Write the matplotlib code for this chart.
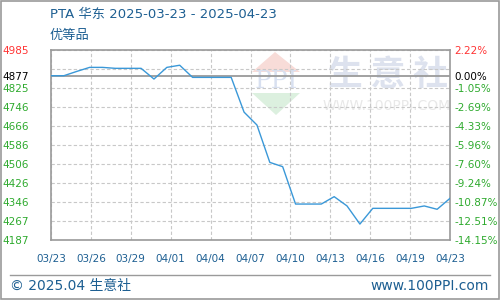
import matplotlib
matplotlib.use('Agg')
import matplotlib.pyplot as plt
from matplotlib.patches import Rectangle, Polygon
from matplotlib.lines import Line2D

plt.rcParams['font.family'] = ['DejaVu Sans', 'Noto Sans CJK SC']

# datos (precio diario, 03/23 .. 04/23)
precios = [4877, 4877, 4895, 4912, 4912, 4908, 4908, 4908, 4863, 4912,
           4921, 4870, 4870, 4870, 4870, 4724, 4670, 4513, 4495, 4338,
           4338, 4338, 4369, 4330, 4254, 4320, 4320, 4320, 4320, 4330,
           4316, 4362]
etiquetas_x = ['03/23', '03/26', '03/29', '04/01', '04/04', '04/07',
               '04/10', '04/13', '04/16', '04/19', '04/23']
niveles_y = [4985, 4905, 4825, 4746, 4666, 4586, 4506, 4426, 4346, 4267, 4187]
etiquetas_y = ['4985', '', '4825', '4746', '4666', '4586', '4506', '4426',
               '4346', '4267', '4187']
etiquetas_pct = ['2.22%', '', '-1.05%', '-2.69%', '-4.33%', '-5.96%',
                 '-7.60%', '-9.24%', '-10.87%', '-12.51%', '-14.15%']
base = 4877

azul = '#1d5f92'
verde = '#2eaa2e'
rojo = '#ff3333'
gris = '#9a9a9a'

W, H = 500, 300


def fx(px):
    return px / W


def fy(py):
    # pixel desde arriba -> fraccion de figura
    return 1 - py / H


fig = plt.figure(figsize=(5, 3), dpi=100)
fig.patch.set_facecolor('white')

# marco exterior
fig.add_artist(Rectangle((0.001, 0.002), 0.996, 0.995, transform=fig.transFigure,
                         fill=False, edgecolor=gris, linewidth=1.2))

# marca de agua (detras de los ejes)
techo = [(252, 72), (275, 52), (300, 72)]
embudo = [(252, 93), (300, 93), (276, 115)]
fig.add_artist(Polygon([(fx(a), fy(b)) for a, b in techo], closed=True,
                       transform=fig.transFigure, facecolor='#f8dcd8',
                       edgecolor='none', zorder=-2))
fig.add_artist(Polygon([(fx(a), fy(b)) for a, b in embudo], closed=True,
                       transform=fig.transFigure, facecolor='#dcf0df',
                       edgecolor='none', zorder=-2))
fig.text(fx(276), fy(82), 'PPI', ha='center', va='center', fontsize=18,
         color='#d8e0f0', family='DejaVu Serif', zorder=-1)
fig.text(fx(388), fy(74), '生 意 社', ha='center', va='center', fontsize=25,
         color='#dde2ee', family=['Noto Sans CJK SC'], fontweight='bold', zorder=-1)
fig.text(fx(387), fy(106), 'WWW.100PPI.COM', ha='center', va='center',
         fontsize=10, color='#e8e8e8', zorder=-1)

ax = fig.add_axes([fx(51), fy(240), 399 / W, 190 / H])
ax.patch.set_visible(False)
n = len(precios)
ax.set_xlim(0, n - 1)
ax.set_ylim(niveles_y[-1], niveles_y[0])

x = list(range(n))
ax.plot(x, precios, color='#3a98d8', linewidth=1.0, zorder=3)
ax.axhline(base, color=gris, linewidth=1.3, zorder=2)

pos_x = [i * (n - 1) / (len(etiquetas_x) - 1) for i in range(len(etiquetas_x))]
ax.set_xticks(pos_x)
ax.set_xticklabels(etiquetas_x, color=azul, fontsize=7.5)
ax.set_yticks(niveles_y)
ax.set_yticklabels(etiquetas_y, fontsize=7.5)
for lbl, val in zip(ax.get_yticklabels(), niveles_y):
    lbl.set_color(rojo if val == niveles_y[0] else verde)
ax.set_yticks([base], minor=True)
ax.set_yticklabels([str(base)], minor=True, fontsize=7.5, color='black')
ax.tick_params(axis='both', which='both', length=0)
ax.tick_params(axis='x', pad=10)
ax.tick_params(axis='y', which='both', pad=16)
ax.grid(True, which='major', color='#c8c8c8', linestyle=(0, (3, 2)), linewidth=0.8)
for s in ax.spines.values():
    s.set_color(gris)
    s.set_linewidth(1.2)

ax2 = ax.twinx()
ax2.patch.set_visible(False)
ax2.set_ylim(ax.get_ylim())
ax2.set_yticks(niveles_y)
ax2.set_yticklabels(etiquetas_pct, fontsize=7.5)
for lbl, val in zip(ax2.get_yticklabels(), niveles_y):
    lbl.set_color(rojo if val == niveles_y[0] else verde)
ax2.set_yticks([base], minor=True)
ax2.set_yticklabels(['0.00%'], minor=True, fontsize=7.5, color='black')
ax2.tick_params(axis='y', which='both', length=0, pad=3)
for s in ax2.spines.values():
    s.set_visible(False)

# titulos
fig.text(fx(50), fy(14), 'PTA 华东 2025-03-23 - 2025-04-23', ha='left', va='center',
         fontsize=9.5, color=azul)
fig.text(fx(50), fy(35), '优等品', ha='left', va='center', fontsize=9.5, color=azul)

# pie
fig.add_artist(Line2D([fx(10), fx(490)], [fy(275), fy(275)],
                      transform=fig.transFigure, color=gris, linewidth=1))
fig.text(fx(10), fy(286), '© 2025.04 生意社', ha='left', va='center',
         fontsize=10, color=azul)
fig.text(fx(489), fy(286), 'www.100PPI.com', ha='right', va='center',
         fontsize=10, color=azul)

fig.savefig('out.png', dpi=100)
